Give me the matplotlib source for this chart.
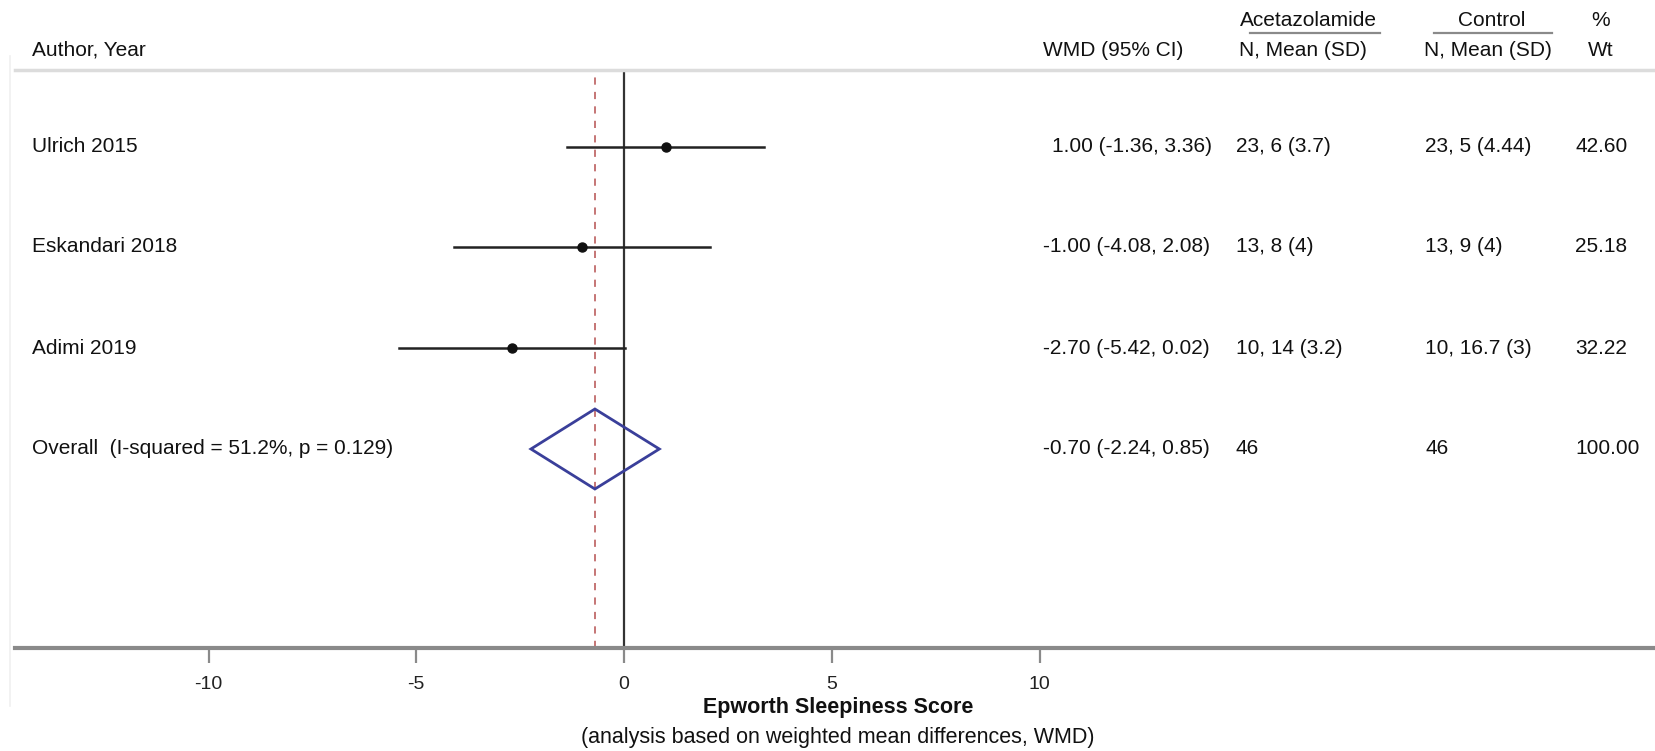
import matplotlib
matplotlib.use("Agg")
import matplotlib.pyplot as plt
from matplotlib.patches import Polygon

plt.rcParams['font.family'] = ['Liberation Sans', 'DejaVu Sans']
plt.rcParams['axes.unicode_minus'] = False

# ---- data ----
studies = ["Ulrich 2015", "Eskandari 2018", "Adimi 2019"]
wmd = [1.00, -1.00, -2.70]
ci_low = [-1.36, -4.08, -5.42]
ci_high = [3.36, 2.08, 0.02]
acet_txt = ["23, 6 (3.7)", "13, 8 (4)", "10, 14 (3.2)"]
ctrl_txt = ["23, 5 (4.44)", "13, 9 (4)", "10, 16.7 (3)"]
weights = [42.60, 25.18, 32.22]

overall_label = "Overall  (I-squared = 51.2%, p = 0.129)"
overall_wmd = -0.70
overall_low = -2.24
overall_high = 0.85
overall_n_acet = "46"
overall_n_ctrl = "46"
overall_wt = 100.00

xticks = [-10, -5, 0, 5, 10]
xticklabels = ["-10", "-5", "0", "5", "10"]

# ---- layout (pixels) ----
W, H = 1655, 751
X0PX, UNIT = 624.0, 41.55           # pixel of x=0, pixels per unit
def px(xp):
    return (xp - X0PX) / UNIT

row_y = [147, 247, 348, 449]
TOP_PX, AX_PX, LEFT_PX = 70, 648, 15
FS = 15
TXT = "#111111"

fig = plt.figure(figsize=(W / 100, H / 100), dpi=100)
ax = fig.add_axes([LEFT_PX / W, (H - AX_PX) / H, 1 - LEFT_PX / W, (AX_PX - TOP_PX) / H])
ax.set_xlim(px(LEFT_PX), px(W))
ax.set_ylim(AX_PX, TOP_PX)

for s in ["left", "right"]:
    ax.spines[s].set_visible(False)
ax.spines["bottom"].set_color("#8a8a8a")
ax.spines["bottom"].set_linewidth(3.0)
ax.spines["top"].set_color("#dcdcdc")
ax.spines["top"].set_linewidth(2.5)

ax.set_yticks([])
ax.set_xticks(xticks)
ax.set_xticklabels(xticklabels, fontsize=FS - 1, color="#222222")
ax.tick_params(axis="x", direction="out", length=11, width=1.6, color="#8a8a8a", pad=9)

# reference lines
ax.axvline(0, color="#333333", lw=1.6, zorder=2)
ax.axvline(overall_wmd, color="#c06a6a", lw=1.3, ls=(0, (4, 4)), zorder=2)

# study CIs and points
for i, name in enumerate(studies):
    y = row_y[i]
    ax.plot([ci_low[i], ci_high[i]], [y, y], color="#222222", lw=1.8, zorder=3)
    ax.plot([wmd[i]], [y], "o", color="#111111", ms=6.5, zorder=4)

# overall diamond
yd = row_y[3]
dh = 40
diamond = Polygon([(overall_low, yd), (overall_wmd, yd - dh), (overall_high, yd), (overall_wmd, yd + dh)],
                  closed=True, fill=False, edgecolor="#3a3f9a", lw=2.0, zorder=4)
ax.add_patch(diamond)

# ---- texts ----
def t(xp, y, s, **kw):
    kw.setdefault("fontsize", FS)
    kw.setdefault("color", TXT)
    kw.setdefault("va", "center")
    kw.setdefault("ha", "left")
    ax.text(px(xp), y, s, clip_on=False, **kw)

# headers
t(32, 50, "Author, Year")
t(1043, 50, "WMD (95% CI)")
t(1239, 50, "N, Mean (SD)")
t(1424, 50, "N, Mean (SD)")
t(1601, 50, "Wt", ha="center")
t(1308, 21, "Acetazolamide", ha="center")
t(1492, 21, "Control", ha="center")
t(1601, 21, "%", ha="center")
ax.plot([px(1250), px(1380)], [33, 33], color="#8a8a8a", lw=1.6, clip_on=False)
ax.plot([px(1434), px(1552)], [33, 33], color="#8a8a8a", lw=1.6, clip_on=False)

# rows
all_labels = studies + [overall_label]
all_wmd = wmd + [overall_wmd]
all_lo = ci_low + [overall_low]
all_hi = ci_high + [overall_high]
all_acet = acet_txt + [overall_n_acet]
all_ctrl = ctrl_txt + [overall_n_ctrl]
all_wt = weights + [overall_wt]
for i in range(4):
    y = row_y[i]
    t(32, y, all_labels[i])
    est = f"{all_wmd[i]:.2f} ({all_lo[i]:.2f}, {all_hi[i]:.2f})"
    t(1043 + (9 if all_wmd[i] >= 0 else 0), y, est)
    t(1236, y, all_acet[i])
    t(1425, y, all_ctrl[i])
    t(1575, y, f"{all_wt[i]:.2f}")

# x-axis titles
t(838, 708, "Epworth Sleepiness Score", ha="center", fontweight="bold", fontsize=FS + 0.5)
t(838, 737, "(analysis based on weighted mean differences, WMD)", ha="center", fontsize=FS + 0.5)

# faint frame at left
fig.add_artist(plt.Line2D([10 / W, 10 / W], [1 - 56 / H, 1 - 706 / H], transform=fig.transFigure,
                          color="#f0f0f0", lw=1.2))

fig.savefig("out.png", dpi=100)
